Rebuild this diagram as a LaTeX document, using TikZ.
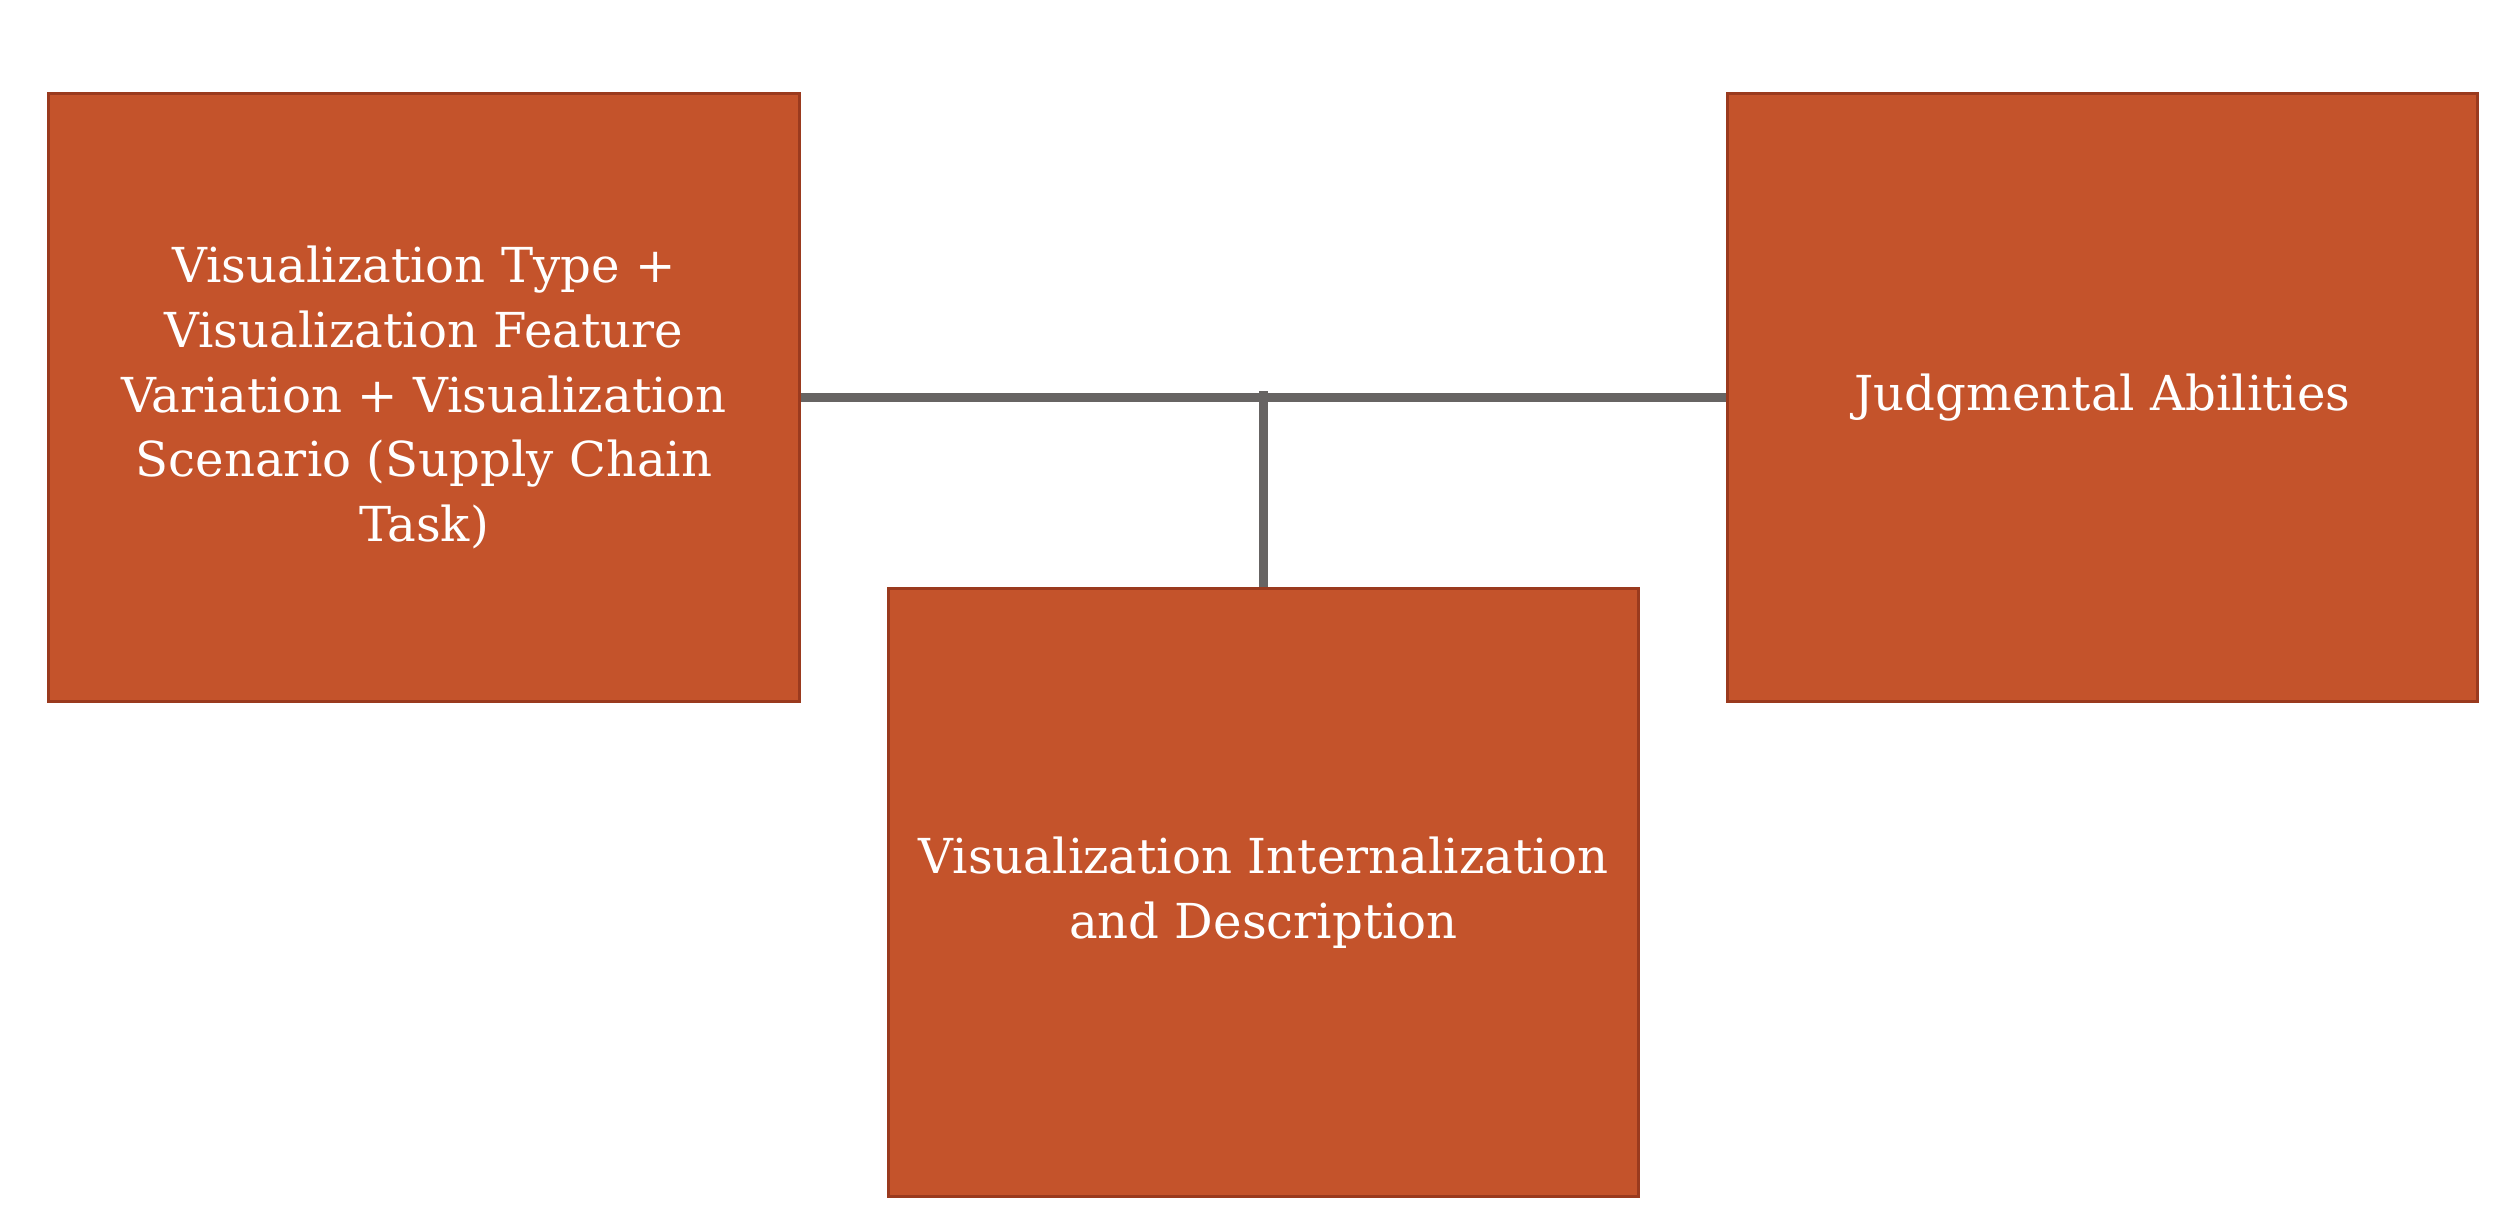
\documentclass[tikz,border=0pt]{standalone}
\usepackage{fontspec}
\setmainfont{DejaVu Serif}
\definecolor{boxfill}{HTML}{C4532B}
\definecolor{boxline}{HTML}{9A3A1E}
\definecolor{conn}{HTML}{676463}
\begin{document}
\begin{tikzpicture}[x=0.01cm,y=-0.01cm,
  box/.style={draw=boxline,line width=0.8pt,fill=boxfill,text=white,
    minimum width=7.5cm,minimum height=6.08cm,inner sep=0pt,align=center,
    font=\fontsize{13.7}{18.4}\selectfont},
  link/.style={draw=conn,line width=0.09cm}]
\useasboundingbox (0,0) rectangle (2512,1214);
\node[box] (left) at (424,397.5) {Visualization Type +\\Visualization Feature\\Variation + Visualization\\Scenario (Supply Chain\\Task)};
\node[box] (right) at (2102.5,397.5) {Judgmental Abilities};
\node[box] (bottom) at (1263.5,892.5) {Visualization Internalization\\and Description};
\draw[link] (left.east) -- (right.west);
\draw[link,shorten >=-0.065cm] (bottom.north) -- (bottom.north |- left.east);
\end{tikzpicture}
\end{document}
